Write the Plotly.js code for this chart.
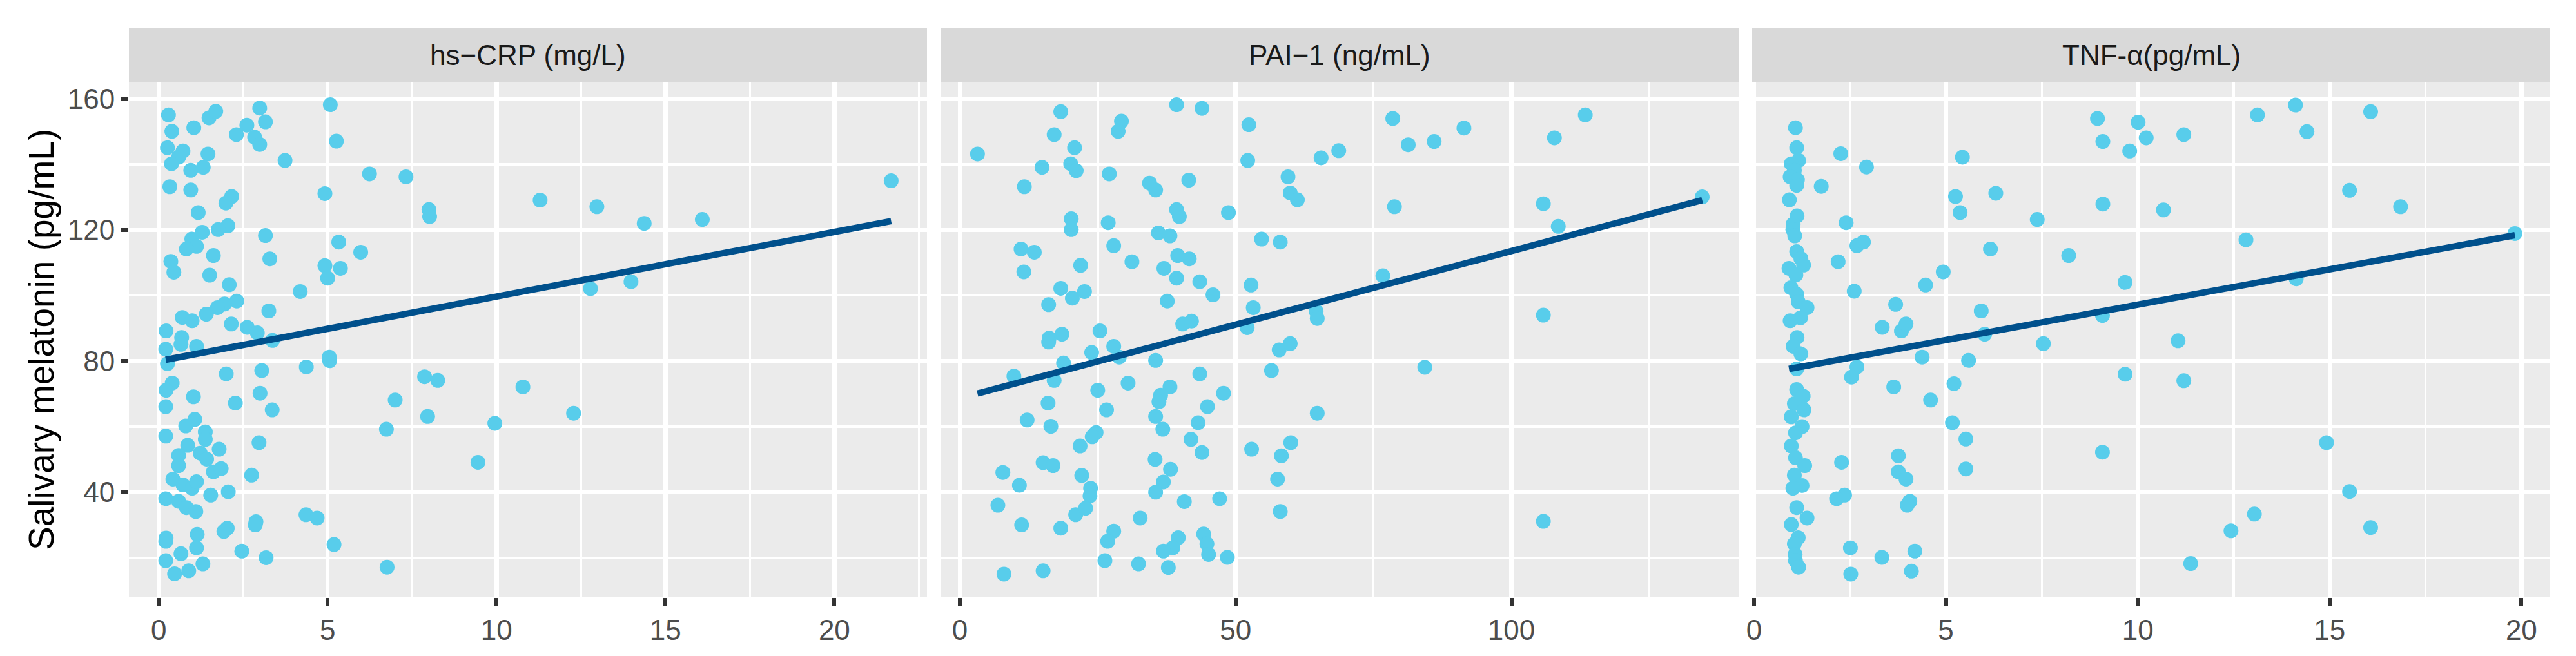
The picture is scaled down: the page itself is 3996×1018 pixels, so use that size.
<!DOCTYPE html>
<html>
<head>
<meta charset="utf-8">
<script src="https://cdn.plot.ly/plotly-3.0.1.min.js"></script>
<style>
  body { margin: 0; background: #fff; }
</style>
</head>
<body>
<div id="chart" style="width:3996px;height:1018px"></div>
<script>
// facet strip labels
const panelTitles = ['hs−CRP (mg/L)', 'PAI−1 (ng/mL)', 'TNF-α(pg/mL)'];
const yTitle = 'Salivary melatonin (pg/mL)';

// hs-CRP panel
const crpX = [
  0.29, 0.39, 1.04, 1.49, 1.69, 0.26, 0.72, 0.59, 0.38, 1.46,
  0.95, 1.32, 0.33, 0.95, 2.99, 3.16, 2.61, 2.30, 2.84, 2.99,
  3.74, 5.08, 5.26, 6.24, 7.32, 4.92, 8.00, 8.02, 2.16, 1.99,
  1.17, 3.16, 3.29, 2.05, 1.76, 1.29, 0.98, 1.12, 0.82, 0.36,
  0.45, 1.62, 1.51, 2.09, 5.33, 5.98, 4.92, 5.38, 5.00, 4.19,
  2.31, 1.95, 1.74, 1.41, 0.70, 0.99, 3.26, 2.15, 2.62, 2.92,
  3.37, 0.22, 0.68, 0.66, 0.21, 1.12, 0.26, 0.40, 0.22, 1.03,
  0.21, 2.00, 3.05, 4.37, 5.05, 5.06, 3.00, 2.27, 3.36, 7.87,
  8.26, 7.00, 7.96, 6.74, 1.07, 0.80, 0.21, 1.38, 1.38, 0.86,
  0.59, 0.59, 1.23, 1.42, 1.79, 2.97, 1.62, 1.85, 2.75, 0.42,
  0.72, 0.99, 1.12, 1.54, 2.06, 0.21, 0.59, 0.82, 1.10, 4.36,
  4.69, 2.88, 2.86, 2.03, 1.93, 0.22, 0.21, 1.14, 1.12, 0.66,
  2.46, 5.19, 3.18, 0.21, 1.31, 0.89, 0.47, 6.76, 11.29, 12.97,
  14.37, 16.09, 21.68, 12.78, 13.98, 10.78, 12.28, 9.95, 9.45
];
const crpY = [
  155.1, 150.1, 151.2, 154.2, 156.2, 145.1, 144.1, 142.2, 140.2, 143.2,
  138.2, 139.1, 133.2, 132.2, 157.2, 153.0, 152.0, 149.1, 148.3, 146.1,
  141.2, 158.2, 147.1, 137.1, 136.2, 131.1, 126.2, 124.1, 130.2, 128.2,
  125.3, 118.3, 111.2, 121.3, 120.1, 119.3, 117.2, 115.0, 114.2, 110.4,
  107.1, 112.2, 106.2, 103.3, 116.3, 113.2, 109.1, 108.3, 105.3, 101.2,
  98.3, 97.4, 96.3, 94.3, 93.3, 92.3, 95.3, 91.3, 90.3, 88.6,
  86.3, 89.2, 87.2, 85.1, 83.6, 84.5, 79.2, 73.3, 71.1, 69.1,
  66.1, 76.1, 77.1, 78.2, 81.2, 80.1, 70.2, 67.2, 65.1, 75.2,
  74.1, 68.1, 63.1, 59.2, 62.2, 60.2, 57.1, 58.4, 56.1, 54.3,
  51.2, 48.1, 51.9, 50.1, 53.1, 55.1, 46.2, 47.2, 45.2, 44.0,
  42.2, 41.2, 43.2, 39.1, 40.1, 38.0, 37.2, 35.3, 34.1, 33.1,
  32.1, 31.0, 30.0, 29.0, 28.0, 26.0, 25.0, 27.1, 23.0, 21.2,
  22.0, 24.0, 20.0, 19.1, 18.1, 16.0, 15.1, 17.1, 129.1, 127.1,
  122.0, 123.2, 135.0, 102.1, 104.2, 72.1, 64.1, 61.0, 49.1
];

// PAI-1 panel
const paiX = [
  3.2, 18.3, 17.1, 20.8, 20.1, 21.1, 14.9, 11.7, 29.3, 28.7,
  39.3, 43.9, 52.4, 52.2, 27.1, 34.4, 35.5, 41.5, 59.5, 59.9,
  61.2, 65.5, 39.3, 39.8, 48.7, 20.2, 20.2, 26.9, 36.0, 38.1,
  54.7, 58.1, 11.1, 13.5, 27.9, 11.6, 21.9, 31.2, 39.5, 41.6,
  37.0, 39.3, 43.5, 45.9, 52.8, 18.3, 20.4, 22.6, 16.1, 37.6,
  53.2, 40.4, 42.0, 25.4, 18.5, 16.2, 16.1, 27.9, 23.9, 52.1,
  57.9, 59.9, 64.6, 64.8, 28.9, 18.8, 9.8, 17.1, 35.5, 43.5,
  56.5, 25.0, 30.5, 38.1, 36.4, 36.1, 47.8, 44.9, 16.0, 12.2,
  16.5, 26.6, 35.5, 36.8, 43.2, 41.9, 43.9, 64.8, 24.7, 24.0,
  21.8, 15.1, 16.9, 7.8, 10.8, 22.1, 23.7, 23.6, 35.4, 38.2,
  36.9, 35.5, 52.9, 60.0, 58.3, 57.6, 58.1, 6.9, 11.2, 18.3,
  21.0, 22.8, 40.7, 47.1, 32.7, 27.9, 26.8, 39.6, 38.6, 36.9,
  44.2, 44.8, 45.1, 48.5, 26.3, 32.4, 37.8, 8.0, 15.1, 68.7,
  78.5, 81.3, 86.0, 91.4, 113.4, 107.8, 78.8, 105.8, 108.5, 134.6,
  76.7, 84.3, 105.8, 105.8
];
const paiY = [
  143.2, 156.1, 149.1, 145.1, 140.2, 138.1, 139.1, 133.2, 153.2, 150.1,
  158.2, 157.1, 152.1, 141.2, 137.1, 134.3, 132.2, 135.2, 136.2, 131.3,
  129.2, 142.0, 126.2, 124.1, 125.3, 123.4, 120.1, 122.2, 119.1, 118.2,
  117.2, 116.3, 114.2, 113.2, 115.2, 107.2, 109.2, 110.3, 112.2, 111.2,
  108.3, 105.3, 104.2, 100.2, 103.2, 102.2, 99.2, 101.2, 97.2, 98.3,
  96.3, 91.3, 92.2, 89.2, 88.2, 87.0, 85.8, 84.5, 82.6, 90.2,
  83.4, 85.3, 95.2, 93.0, 81.2, 79.4, 75.4, 74.1, 80.2, 76.1,
  77.1, 71.1, 73.3, 72.1, 69.6, 67.6, 70.2, 66.1, 67.2, 62.0,
  60.1, 65.1, 63.1, 59.2, 61.2, 56.1, 52.1, 64.1, 58.2, 56.9,
  54.1, 49.0, 48.1, 46.0, 42.1, 45.1, 41.2, 38.9, 50.0, 47.0,
  43.1, 40.0, 53.1, 55.1, 51.1, 44.0, 34.1, 36.0, 30.0, 29.0,
  33.1, 35.1, 37.1, 38.0, 32.1, 28.1, 25.0, 26.1, 23.0, 22.0,
  27.2, 24.2, 21.0, 20.1, 19.1, 18.1, 17.0, 15.0, 16.0, 144.2,
  154.0, 146.0, 147.0, 151.1, 155.1, 148.1, 127.1, 128.0, 121.1, 130.1,
  106.0, 78.1, 94.0, 31.1
];

// TNF-alpha panel
const tnfX = [
  1.08, 1.11, 1.16, 0.97, 1.05, 0.94, 1.13, 1.11, 0.92, 1.12,
  1.02, 1.01, 1.06, 1.11, 1.22, 1.29, 0.91, 1.09, 0.96, 1.11,
  1.15, 1.38, 1.21, 0.94, 1.12, 1.02, 1.22, 2.26, 2.93, 1.75,
  2.40, 2.68, 2.85, 2.19, 2.61, 3.69, 3.34, 3.84, 3.96, 4.47,
  4.93, 5.43, 5.25, 5.37, 6.30, 7.38, 6.16, 8.20, 5.92, 6.01,
  7.54, 4.38, 1.11, 2.68, 2.54, 3.64, 5.59, 5.21, 4.60, 5.17,
  5.52, 3.76, 3.76, 3.96, 5.52, 2.28, 2.36, 2.15, 4.06, 3.99,
  2.51, 3.33, 4.19, 2.52, 4.10, 1.11, 1.28, 1.05, 1.30, 0.97,
  1.25, 1.08, 0.97, 1.08, 1.32, 1.05, 1.25, 1.01, 1.11, 1.38,
  0.97, 1.15, 1.05, 1.07, 1.08, 1.16, 8.95, 10.01, 9.09, 10.22,
  9.79, 11.20, 13.12, 14.11, 14.41, 16.07, 15.52, 16.85, 9.09, 10.67,
  12.82, 19.83, 9.67, 14.13, 9.08, 11.05, 9.67, 11.20, 9.08, 14.92,
  15.52, 13.04, 12.43, 16.07, 11.38
];
const tnfY = [
  151.2, 145.1, 141.2, 140.2, 138.2, 136.2, 135.3, 133.6, 129.2, 124.3,
  121.8, 120.1, 118.2, 113.4, 111.3, 109.3, 108.3, 106.3, 102.4, 100.4,
  98.1, 96.3, 93.2, 92.3, 87.2, 84.5, 82.2, 143.3, 139.2, 133.3,
  122.2, 115.2, 116.3, 110.3, 101.3, 97.3, 90.3, 89.2, 91.3, 103.2,
  107.2, 142.2, 130.2, 125.3, 131.2, 123.2, 114.2, 112.2, 95.3, 88.2,
  85.3, 81.2, 77.6, 78.2, 75.1, 72.1, 80.2, 73.1, 68.1, 61.2,
  56.2, 51.1, 46.2, 44.0, 47.1, 49.1, 39.1, 38.0, 37.2, 36.0,
  23.0, 20.1, 22.0, 15.0, 15.9, 71.3, 69.3, 67.0, 65.1, 63.0,
  60.0, 58.1, 54.1, 50.5, 48.1, 45.2, 42.0, 41.2, 35.3, 32.1,
  30.1, 26.1, 24.2, 21.0, 19.1, 17.1, 154.0, 152.9, 147.0, 148.1,
  144.1, 149.1, 155.1, 158.1, 150.0, 156.1, 132.1, 127.1, 127.9, 126.1,
  117.0, 118.9, 104.0, 105.1, 93.9, 86.2, 76.0, 74.0, 52.2, 55.1,
  40.2, 33.3, 28.2, 29.2, 18.2
];

// linear fit lines, end points
const crpFitX = [0.21, 21.68];
const crpFitY = [80.4, 122.7];
const paiFitX = [3.2, 134.6];
const paiFitY = [70.1, 129.1];
const tnfFitX = [0.91, 19.83];
const tnfFitY = [77.6, 118.4];

const xRanges = [[-0.88, 22.74], [-3.5, 141.2], [-0.05, 20.75]];
const xMajor = [5, 50, 5];
const yRange = [7.9, 165.2];

const FONT = '"Liberation Sans", Arial, Helvetica, sans-serif';
const POINT = '#58CDEB';
const LINE = '#00508C';

const domains = [[0, 0.3296], [0.3352, 0.6648], [0.6704, 1]];
const stripTop = 1 + 84 / 800;

let data = [];
const panels = [
  [crpX, crpY, crpFitX, crpFitY],
  [paiX, paiY, paiFitX, paiFitY],
  [tnfX, tnfY, tnfFitX, tnfFitY]
];
panels.forEach(function(p, i) {
  let n = i === 0 ? '' : String(i + 1);
  data.push({
    x: p[0], y: p[1], xaxis: 'x' + n, yaxis: 'y' + n,
    type: 'scatter', mode: 'markers',
    marker: { color: POINT, size: 23, line: { width: 0 } },
    hoverinfo: 'skip'
  });
  data.push({
    x: p[2], y: p[3], xaxis: 'x' + n, yaxis: 'y' + n,
    type: 'scatter', mode: 'lines',
    line: { color: LINE, width: 10 },
    hoverinfo: 'skip'
  });
});

function axisBase() {
  return {
    showline: false, zeroline: false,
    showgrid: true, gridcolor: '#FFFFFF', gridwidth: 6.5,
    ticks: 'outside', ticklen: 12, tickwidth: 6, tickcolor: '#333333',
    tickfont: { family: FONT, size: 44, color: '#4D4D4D' },
    fixedrange: true
  };
}

let layout = {
  width: 3996, height: 1018,
  margin: { l: 200, r: 40, t: 127, b: 91 },
  paper_bgcolor: '#FFFFFF',
  plot_bgcolor: '#EBEBEB',
  showlegend: false,
  hovermode: false,
  font: { family: FONT },
  shapes: [],
  annotations: []
};

for (let i = 0; i < 3; i++) {
  let n = i === 0 ? '' : String(i + 1);
  let xa = axisBase();
  xa.domain = domains[i];
  xa.range = xRanges[i];
  xa.tick0 = 0;
  xa.dtick = xMajor[i];
  xa.anchor = 'y' + n;
  xa.minor = { dtick: xMajor[i] / 2, showgrid: true, gridcolor: '#FFFFFF', gridwidth: 3.5, ticks: '' };
  layout['xaxis' + n] = xa;

  let ya = axisBase();
  ya.domain = [0, 1];
  ya.range = yRange;
  ya.tick0 = 0;
  ya.dtick = 40;
  ya.anchor = 'x' + n;
  ya.minor = { dtick: 20, showgrid: true, gridcolor: '#FFFFFF', gridwidth: 3.5, ticks: '' };
  if (i > 0) {
    ya.showticklabels = false;
    ya.ticks = '';
  }
  layout['yaxis' + n] = ya;

  layout.shapes.push({
    type: 'rect', xref: 'paper', yref: 'paper',
    x0: domains[i][0], x1: domains[i][1], y0: 1, y1: stripTop,
    fillcolor: '#D9D9D9', line: { width: 0 }, layer: 'below'
  });
  layout.annotations.push({
    text: panelTitles[i], xref: 'paper', yref: 'paper',
    x: (domains[i][0] + domains[i][1]) / 2, y: (1 + stripTop) / 2,
    xanchor: 'center', yanchor: 'middle', showarrow: false,
    font: { family: FONT, size: 44, color: '#1A1A1A' }
  });
}

// y axis title, placed as in the reference (centre about 64px from the left edge)
layout.annotations.push({
  text: yTitle, xref: 'paper', yref: 'paper',
  x: (64 - 200) / 3756, y: 0.5, textangle: -90,
  xanchor: 'center', yanchor: 'middle', showarrow: false,
  font: { family: FONT, size: 55, color: '#000000' }
});

Plotly.newPlot('chart', data, layout, { staticPlot: true, displayModeBar: false });
</script>
</body>
</html>
